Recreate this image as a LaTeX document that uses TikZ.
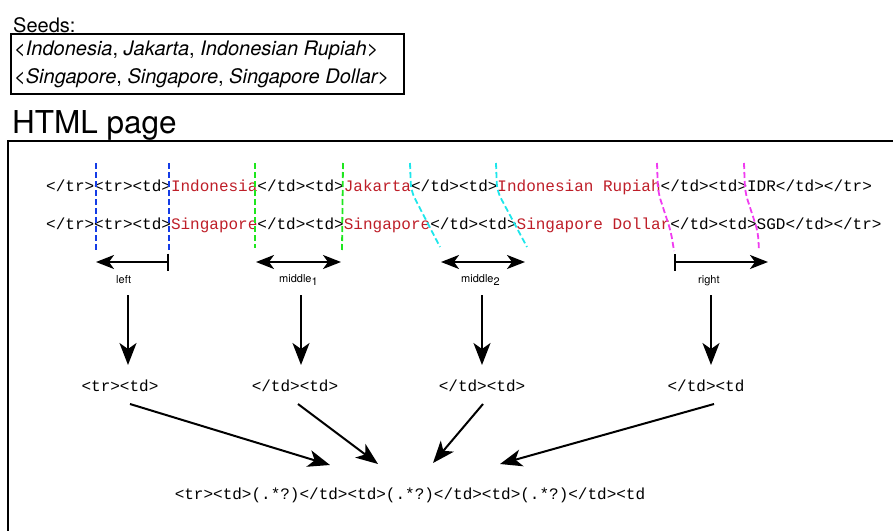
\documentclass[tikz,border=0pt]{standalone}
\usepackage{fontspec}
\setmainfont{TeX Gyre Heros}
\newfontfamily\cmono{Liberation Mono}
\usetikzlibrary{arrows.meta}
\definecolor{codered}{RGB}{190,30,40}
\definecolor{dblue}{RGB}{20,60,230}
\definecolor{dgreen}{RGB}{30,230,30}
\definecolor{dcyan}{RGB}{30,230,235}
\definecolor{dmag}{RGB}{240,60,240}
\newcommand{\rd}[1]{\textcolor{codered}{#1}}
\tikzset{
  hhead/.tip={Stealth[length=18pt,width=14pt,inset=5pt]},
  vhead/.tip={Stealth[length=22pt,width=17pt,inset=6pt]},
}
\begin{document}
\begin{tikzpicture}[x=1pt,y=-1pt,
  code/.style={font=\cmono\fontsize{16}{16}\selectfont, inner sep=0pt, anchor=base west},
  seedtxt/.style={font=\fontsize{20}{20}\selectfont, inner sep=0pt, anchor=base west},
  lab/.style={font=\fontsize{11}{11}\selectfont, inner sep=0pt, anchor=base west},
  sep/.style={dash pattern=on 6pt off 3pt, line width=1.8pt, rounded corners=8pt},
  harrow/.style={line width=2pt},
  bigarrow/.style={line width=2pt, -{vhead}},
]
\useasboundingbox (0,0) rectangle (893,530);

% seeds
\node[seedtxt] (seedlab) at (13,32) {Seeds:};
\node[draw, line width=1.5pt, inner sep=0pt, minimum width=393pt, minimum height=60pt, anchor=north west] (seedbox) at (10,33) {};
\node[seedtxt] (seed1) at (14,55) {\textit{<Indonesia}, \textit{Jakarta}, \textit{Indonesian Rupiah>}};
\node[seedtxt] (seed2) at (14,83) {\textit{<Singapore}, \textit{Singapore}, \textit{Singapore Dollar>}};

% HTML page
\node[font=\fontsize{31.5}{32}\selectfont, inner sep=0pt, anchor=base west] (htmllab) at (12,133) {HTML page};
\coordinate (boxtl) at (8,141);
\coordinate (boxbl) at (8,535);
\coordinate (boxtr) at (898,141);
\draw[line width=2pt] (boxbl) -- (boxtl) -- (boxtr);

% code lines
\node[code] (line1) at (46,191) {</tr><tr><td>\rd{Indonesia}</td><td>\rd{Jakarta}</td><td>\rd{Indonesian Rupiah}</td><td>IDR</td></tr>};
\node[code] (line2) at (46,229) {</tr><tr><td>\rd{Singapore}</td><td>\rd{Singapore}</td><td>\rd{Singapore Dollar}</td><td>SGD</td></tr>};

% dashed separators
\draw[sep, dblue] (96,163) -- (96,250);
\draw[sep, dblue] (169,163) -- (169,250);
\draw[sep, dgreen] (255,163) -- (255,248);
\draw[sep, dgreen] (343,163) -- (342,250);
\draw[sep, dcyan] (410,163) -- (411,191) -- (440,247);
\draw[sep, dcyan] (496,163) -- (497,191) -- (527,247);
\draw[sep, dmag] (657,163) -- (658,192) -- (671,232) -- (674,251);
\draw[sep, dmag] (744,163) -- (745,192) -- (758,232) -- (759,251);

% context arrows
\coordinate (la) at (169,262); \coordinate (lb) at (96,262);
\coordinate (m1a) at (256,262); \coordinate (m1b) at (341,262);
\coordinate (m2a) at (441,262); \coordinate (m2b) at (525,262);
\coordinate (ra) at (674,262); \coordinate (rb) at (768,262);
\draw[harrow, {Bar[width=17pt]}-{hhead}] (la) -- (lb);
\draw[harrow, {hhead}-{hhead}] (m1a) -- (m1b);
\draw[harrow, {hhead}-{hhead}] (m2a) -- (m2b);
\draw[harrow, {Bar[width=17pt]}-{hhead}] (ra) -- (rb);

\node[lab] (tleft) at (116,283) {left};
\node[lab] (tmid1) at (279,282) {middle\raisebox{-3.5pt}{1}};
\node[lab] (tmid2) at (461,282) {middle\raisebox{-3.5pt}{2}};
\node[lab] (tright) at (698,283) {right};

% down arrows
\coordinate (d1a) at (128,295); \coordinate (d1b) at (128,365);
\coordinate (d2a) at (301,295); \coordinate (d2b) at (301,365);
\coordinate (d3a) at (482,295); \coordinate (d3b) at (482,365);
\coordinate (d4a) at (711,295); \coordinate (d4b) at (711,365);
\draw[bigarrow] (d1a) -- (d1b);
\draw[bigarrow] (d2a) -- (d2b);
\draw[bigarrow] (d3a) -- (d3b);
\draw[bigarrow] (d4a) -- (d4b);

% extracted contexts
\node[code, anchor=base] (ctx1) at (120,391) {<tr><td>};
\node[code, anchor=base] (ctx2) at (295,391) {</td><td>};
\node[code, anchor=base] (ctx3) at (482,391) {</td><td>};
\node[code, anchor=base] (ctx4) at (706,391) {</td><td};

% pattern
\node[code, anchor=base] (pattern) at (410,499) {<tr><td>(.*?)</td><td>(.*?)</td><td>(.*?)</td><td};

% converging arrows
\coordinate (c1a) at (130,404); \coordinate (c1b) at (330,465);
\coordinate (c2a) at (298,404); \coordinate (c2b) at (378,464);
\coordinate (c3a) at (483,404); \coordinate (c3b) at (433,463);
\coordinate (c4a) at (714,404); \coordinate (c4b) at (500,464);
\draw[bigarrow] (c1a) -- (c1b);
\draw[bigarrow] (c2a) -- (c2b);
\draw[bigarrow] (c3a) -- (c3b);
\draw[bigarrow] (c4a) -- (c4b);
\end{tikzpicture}
\end{document}
